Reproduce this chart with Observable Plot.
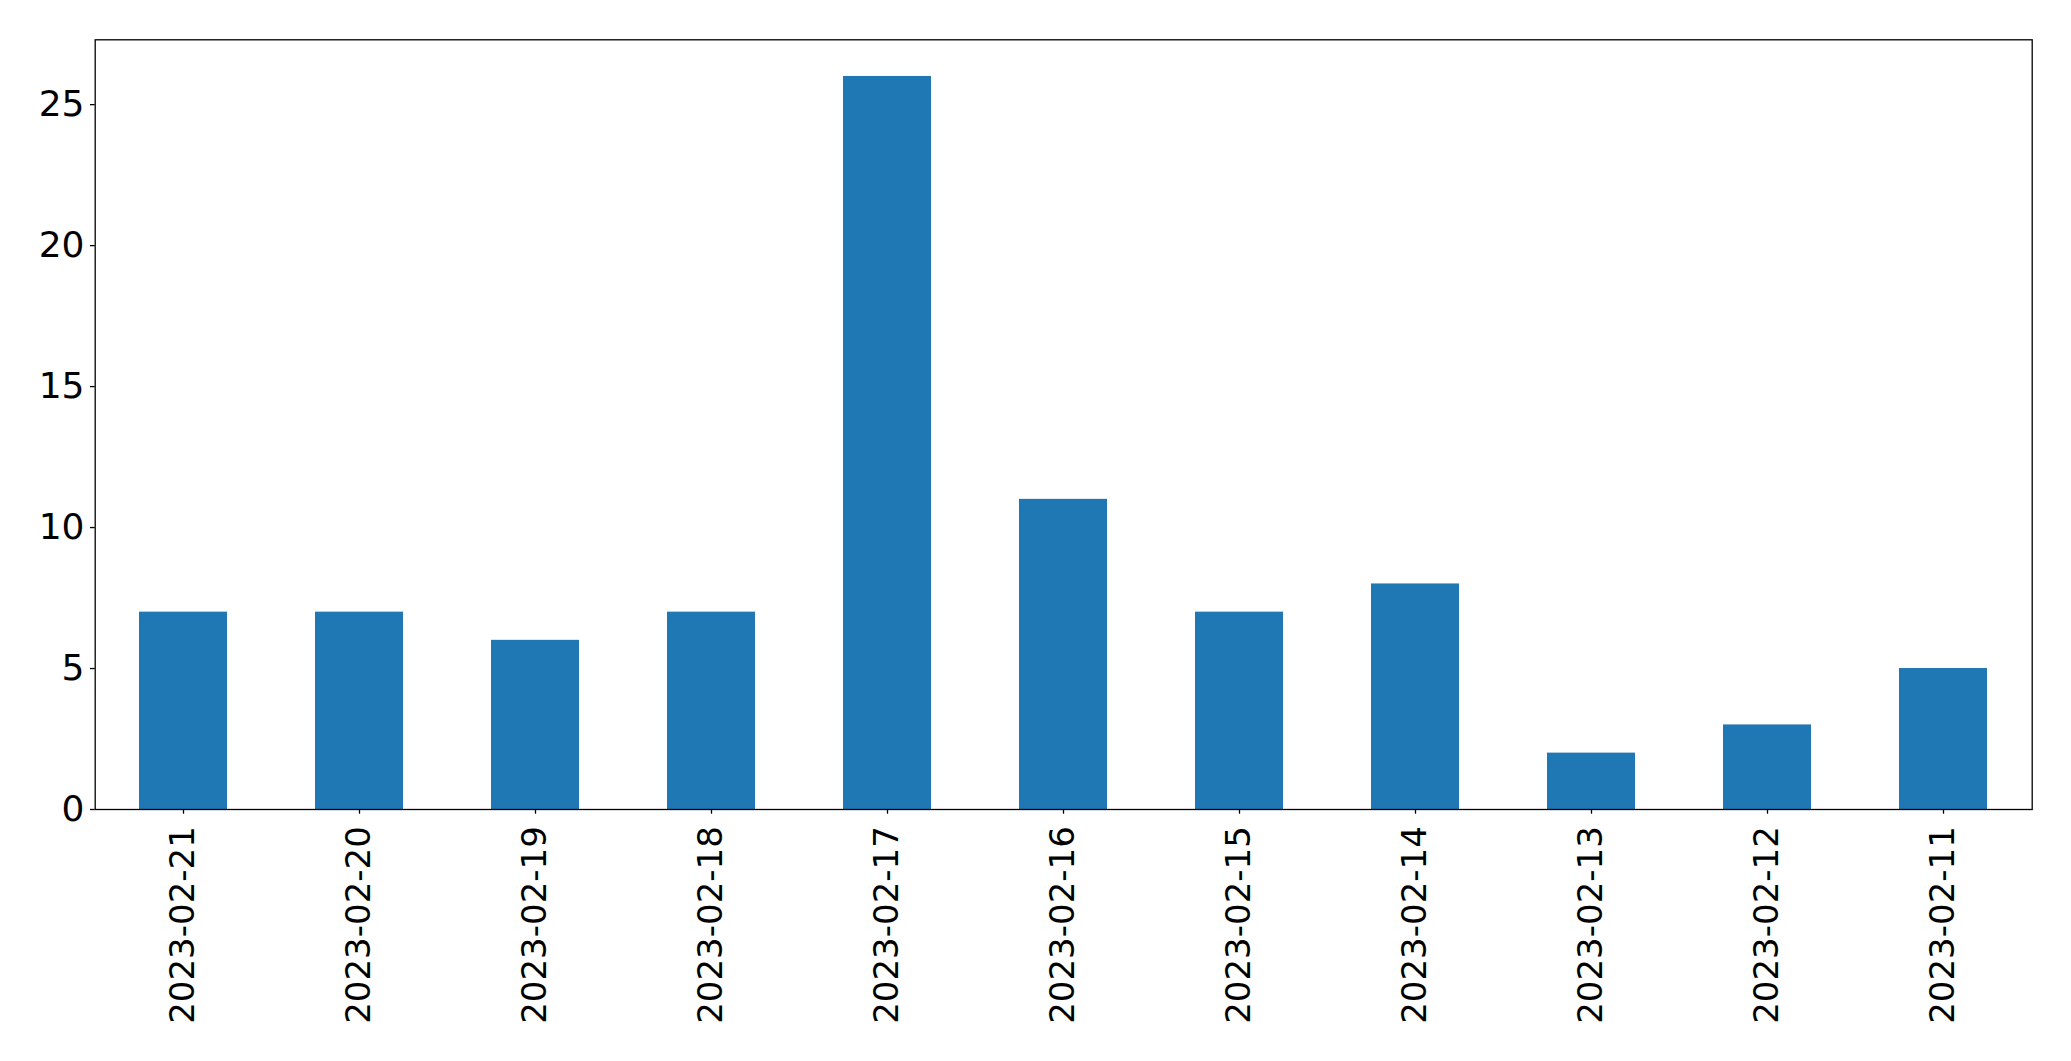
<!DOCTYPE html>
<html>
<head>
<meta charset="utf-8">
<script src="https://cdn.jsdelivr.net/npm/d3@7"></script>
<script src="https://cdn.jsdelivr.net/npm/@observablehq/plot@0.6"></script>
<style>
  html, body { margin: 0; padding: 0; background: #fff; }
  #chart svg { display: block; }
</style>
</head>
<body>
<div id="chart"></div>
<script>
const dates = ["2023-02-21","2023-02-20","2023-02-19","2023-02-18","2023-02-17","2023-02-16","2023-02-15","2023-02-14","2023-02-13","2023-02-12","2023-02-11"];
const counts = [7, 7, 6, 7, 26, 11, 7, 8, 2, 3, 5];
const yTicks = [0, 5, 10, 15, 20, 25];

const data = dates.map((d, i) => ({date: d, count: counts[i]}));

const chart = Plot.plot({
  width: 2071,
  height: 1061,
  marginLeft: 94.7,
  marginRight: 39.3,
  marginTop: 39.3,
  marginBottom: 252,
  style: {fontFamily: "DejaVu Sans", background: "#fff", color: "#000"},
  x: {domain: dates, paddingInner: 0.5, paddingOuter: 0.25, align: 0.5},
  y: {domain: [0, 27.3]},
  marks: [
    Plot.barY(data, {x: "date", y: "count", fill: "#1f77b4"}),
    Plot.frame({stroke: "#000", strokeWidth: 1.3}),
    Plot.axisY({ticks: yTicks, tickSize: 4.7, tickPadding: 6, fontSize: 36, label: null, stroke: "#000", strokeWidth: 1.3}),
    Plot.axisX({tickSize: 4.7, tickPadding: 12, tickRotate: -90, fontSize: 34, label: null, stroke: "#000", strokeWidth: 1.3})
  ]
});
document.getElementById("chart").append(chart);
</script>
</body>
</html>
